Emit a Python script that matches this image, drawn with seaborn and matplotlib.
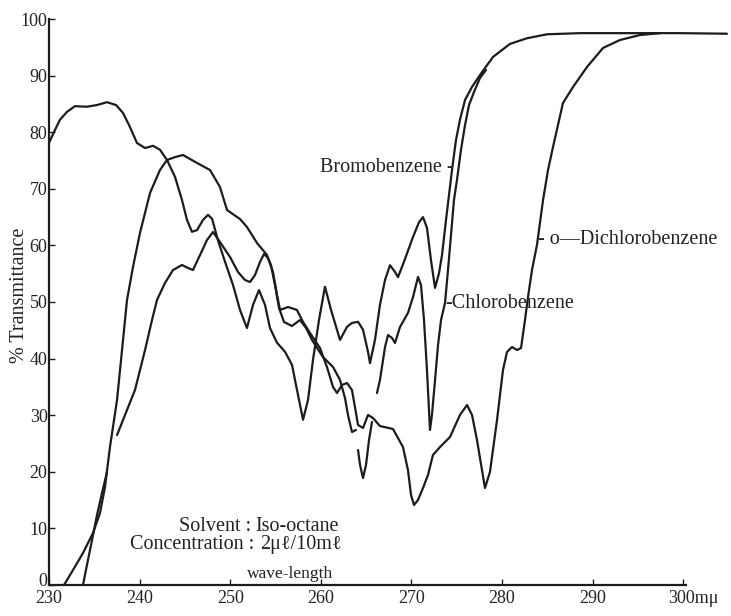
import matplotlib
matplotlib.use("Agg")
import matplotlib.pyplot as plt
import matplotlib.transforms as mtransforms
import pandas as pd
import seaborn as sns

# ---------------- data (wavelength in mμ, % transmittance) ----------------
bromo_x = [230.0, 230.66, 231.21, 231.99, 232.87, 234.19, 235.30, 236.40, 237.40, 238.17,
           238.94, 239.71, 240.60, 241.48, 242.25, 243.02, 243.91, 244.68, 245.23, 245.78,
           246.34, 247.0, 247.55, 248.0, 248.65, 249.43, 250.31, 251.08, 251.85, 252.52,
           253.18, 253.84, 254.39, 255.17, 256.05, 256.82, 257.48, 258.04, 258.59, 259.14,
           259.80, 260.46, 261.13, 262.12, 262.89, 263.44, 264.11, 264.66, 265.21, 265.43,
           265.98, 266.53, 267.09, 267.64, 268.19, 268.52, 269.18, 270.18, 270.84, 271.28,
           271.72, 272.16, 272.61, 273.05, 273.38, 273.82, 274.15, 274.48, 274.92, 275.36,
           275.92, 276.69, 277.79, 279.01, 280.88, 282.76, 284.97, 288.61, 293.02, 299.65,
           304.83]
bromo_y = [78.1, 80.4, 82.2, 83.6, 84.6, 84.5, 84.8, 85.3, 84.8, 83.4,
           80.9, 78.1, 77.2, 77.6, 76.9, 75.1, 72.1, 68.0, 64.5, 62.4,
           62.7, 64.5, 65.4, 64.7, 60.9, 57.1, 53.0, 48.6, 45.4, 49.5,
           52.1, 49.5, 45.4, 42.8, 41.2, 38.9, 33.6, 29.2, 32.7, 39.8,
           46.8, 52.7, 48.6, 43.3, 45.6, 46.3, 46.5, 45.1, 41.2, 39.2,
           43.3, 49.5, 53.9, 56.5, 55.3, 54.4, 57.1, 61.5, 64.1, 65.0,
           63.1, 57.4, 52.5, 55.1, 58.3, 64.5, 68.9, 73.3, 78.6, 82.2,
           85.7, 88.0, 90.6, 93.3, 95.6, 96.6, 97.3, 97.5, 97.5, 97.5,
           97.4]

chloro_a_x = [233.75, 234.19, 234.75, 235.30, 235.85, 236.40]
chloro_a_y = [0.0, 3.53, 7.95, 12.37, 16.25, 19.96]

chloro_b_x = [237.51, 238.39, 239.49, 240.60, 241.37, 241.92, 242.80, 243.69, 244.68, 245.34,
              245.89, 246.67, 247.44, 248.10, 248.87, 249.98, 250.86, 251.63, 252.19, 252.74,
              253.29, 253.73, 254.17, 254.50, 254.94, 255.39, 255.94, 256.82, 257.70, 258.37,
              259.03, 260.24, 261.35, 262.12, 262.67, 263.00, 263.44, 263.88]
chloro_b_y = [26.50, 30.04, 34.45, 41.52, 46.82, 50.35, 53.36, 55.65, 56.54, 56.01,
              55.65, 58.30, 60.95, 62.37, 60.60, 57.95, 55.30, 53.89, 53.53, 54.77,
              57.07, 58.48, 57.77, 56.54, 53.00, 48.94, 46.47, 45.76, 46.82, 45.41,
              43.29, 40.28, 38.52, 36.22, 33.04, 30.04, 27.03, 27.39]

chloro_c_x = [266.20, 266.53, 266.75, 267.09, 267.42, 267.86, 268.19, 268.74, 269.62, 270.18,
              270.73, 271.06, 271.39, 271.72, 271.94, 272.05, 272.27, 272.61, 272.94, 273.27,
              273.71, 274.04, 274.37, 274.70, 275.03, 275.47, 275.92, 276.36, 276.91, 277.57,
              278.23]
chloro_c_y = [33.92, 36.22, 38.52, 42.05, 44.17, 43.64, 42.76, 45.58, 48.06, 50.88,
              54.42, 53.00, 46.82, 37.99, 30.92, 27.39, 30.04, 36.22, 42.40, 46.82,
              49.82, 55.65, 61.84, 68.02, 71.55, 76.86, 81.27, 84.81, 87.10, 89.58,
              90.99]

dichloro_a_x = [231.66, 232.65, 233.75, 234.86, 235.63, 236.18, 236.73, 237.51, 238.06, 238.61,
                239.27, 240.04, 241.15, 242.25, 243.02, 243.91, 244.79, 246.34, 247.77, 248.87,
                249.65, 251.08, 251.85, 252.96, 254.06, 254.72, 255.17, 255.50, 256.38, 257.37,
                258.04, 258.81, 259.91, 260.68, 261.35, 261.79, 262.34, 262.89, 263.44, 263.77,
                264.11, 264.66, 265.21, 265.76, 266.53, 267.97, 269.07, 269.62, 269.96, 270.29,
                270.73, 271.28, 271.83, 272.38, 273.16, 274.26, 275.36, 276.14, 276.69, 277.24,
                277.79, 278.12, 278.67, 279.45, 280.11, 280.55, 281.10, 281.66, 282.10, 282.54,
                282.87, 283.31, 283.86, 284.53, 285.08, 285.63, 286.18, 286.73, 287.84, 289.38,
                291.15, 293.02, 295.23, 297.44]
dichloro_a_y = [0.0, 2.65, 5.65, 9.19, 12.72, 17.31, 24.38, 32.69, 41.52, 50.35,
                56.18, 62.19, 69.26, 73.32, 75.09, 75.6, 75.97, 74.56, 73.32, 70.32,
                66.25, 64.66, 63.25, 60.42, 58.30, 55.30, 51.24, 48.59, 49.12, 48.59,
                46.47, 44.52, 41.87, 38.52, 34.98, 33.92, 35.34, 35.69, 34.45, 31.45,
                28.27, 27.74, 30.04, 29.51, 28.09, 27.56, 24.38, 20.32, 15.90, 14.13,
                15.02, 17.14, 19.43, 22.97, 24.38, 26.15, 30.04, 31.80, 30.04, 25.62,
                20.32, 17.14, 19.96, 29.15, 37.99, 41.17, 42.05, 41.52, 41.87, 46.82,
                50.88, 55.65, 60.07, 68.02, 73.32, 77.39, 81.27, 85.16, 87.99, 91.52,
                94.88, 96.29, 97.17, 97.5]

dichloro_b_x = [264.11, 264.33, 264.66, 264.99, 265.32, 265.65]
dichloro_b_y = [23.85, 21.2, 18.9, 21.2, 25.6, 28.8]

x_ticks = [230, 240, 250, 260, 270, 280, 290, 300]
x_ticklabels = ["230", "240", "250", "260", "270", "280", "290", ""]
y_ticks = [0, 10, 20, 30, 40, 50, 60, 70, 80, 90, 100]
y_ticklabels = ["0", "10", "20", "30", "40", "50", "60", "70", "80", "90", "100"]

# ---------------- build long table ----------------
segments = [
    ("Bromobenzene", "br", bromo_x, bromo_y),
    ("Chlorobenzene", "cl_a", chloro_a_x, chloro_a_y),
    ("Chlorobenzene", "cl_b", chloro_b_x, chloro_b_y),
    ("Chlorobenzene", "cl_c", chloro_c_x, chloro_c_y),
    ("o-Dichlorobenzene", "dcl_a", dichloro_a_x, dichloro_a_y),
    ("o-Dichlorobenzene", "dcl_b", dichloro_b_x, dichloro_b_y),
]
rows = []
for name, seg, xs, ys in segments:
    for i, (xv, yv) in enumerate(zip(xs, ys)):
        rows.append((name, seg, i, xv, yv))
df = pd.DataFrame(rows, columns=["compound", "segment", "order", "wavelength", "transmittance"])

sns.set_theme(style="white")
plt.rcParams["font.family"] = ["Liberation Serif", "DejaVu Serif"]

W, H = 731, 616
fig = plt.figure(figsize=(W / 100, H / 100), dpi=100)
x0px, x1px = 49, 728.5
y0px, y1px = 585, 19
ax = fig.add_axes([x0px / W, (H - y0px) / H, (x1px - x0px) / W, (y0px - y1px) / H])

line_color = "#1c1c1c"
text_color = "#222222"
sns.lineplot(data=df, x="wavelength", y="transmittance", units="segment",
             estimator=None, sort=False, color=line_color, linewidth=1.6,
             legend=False, ax=ax)
for l in ax.get_lines():
    l.set_solid_joinstyle("round")
    l.set_solid_capstyle("round")

ax.set_xlim(230, 305)
ax.set_ylim(0, 100)
ax.set_xticks(x_ticks)
ax.set_xticklabels(x_ticklabels)
ax.set_yticks(y_ticks)
ax.set_yticklabels(y_ticklabels)
ax.set_xlabel("")
ax.set_ylabel("")
for s in ["top", "right"]:
    ax.spines[s].set_visible(False)
for s in ["left", "bottom"]:
    ax.spines[s].set_color(line_color)
    ax.spines[s].set_linewidth(1.6)
ax.spines["bottom"].set_bounds(230, 300.3)
tick_font = 13
ax.tick_params(axis="both", direction="in", length=4, width=1.0, color=line_color,
               labelsize=tick_font, labelcolor=text_color, left=True, bottom=True)
ax.tick_params(axis="y", pad=1)
ax.tick_params(axis="x", pad=3.5)
ax.patch.set_alpha(0)

# lift the "0" label slightly so it sits above the "230" label, as in the scan
zero_lbl = ax.get_yticklabels()[0]
zero_lbl.set_transform(zero_lbl.get_transform() +
                       mtransforms.ScaledTranslation(0, 4 / 72, fig.dpi_scale_trans))

ax.annotate("300mμ", xy=(298.32, 0), xycoords=("data", "axes fraction"),
            xytext=(0, -3.5), textcoords="offset points", ha="left", va="top",
            fontsize=tick_font, color=text_color)

lab = dict(color=text_color, fontsize=14.5)
ax.text(259.91, 73.7, "Bromobenzene -", ha="left", va="center", **lab)
ax.text(273.71, 49.8, "-Chlorobenzene", ha="left", va="center", **lab)
ax.text(283.97, 61.0, "- o—Dichlorobenzene", ha="left", va="center", **lab)

ax.text(252.3, 10.4, "Solvent :", ha="right", va="center", **lab)
ax.text(252.74, 10.4, "Iso-octane", ha="left", va="center", **lab)
ax.text(252.6, 7.07, "Concentration :", ha="right", va="center", **lab)
ax.text(253.29, 7.07, "2μℓ/10mℓ", ha="left", va="center", **lab)
ax.text(256.6, 1.9, "wave-length", ha="center", va="center", color=text_color, fontsize=12.5)

fig.text(20 / W, 1 - 295 / H, "% Transmittance", rotation=90, ha="center", va="center",
         color=text_color, fontsize=14.5)

fig.savefig("out.png", dpi=100, facecolor="white")
